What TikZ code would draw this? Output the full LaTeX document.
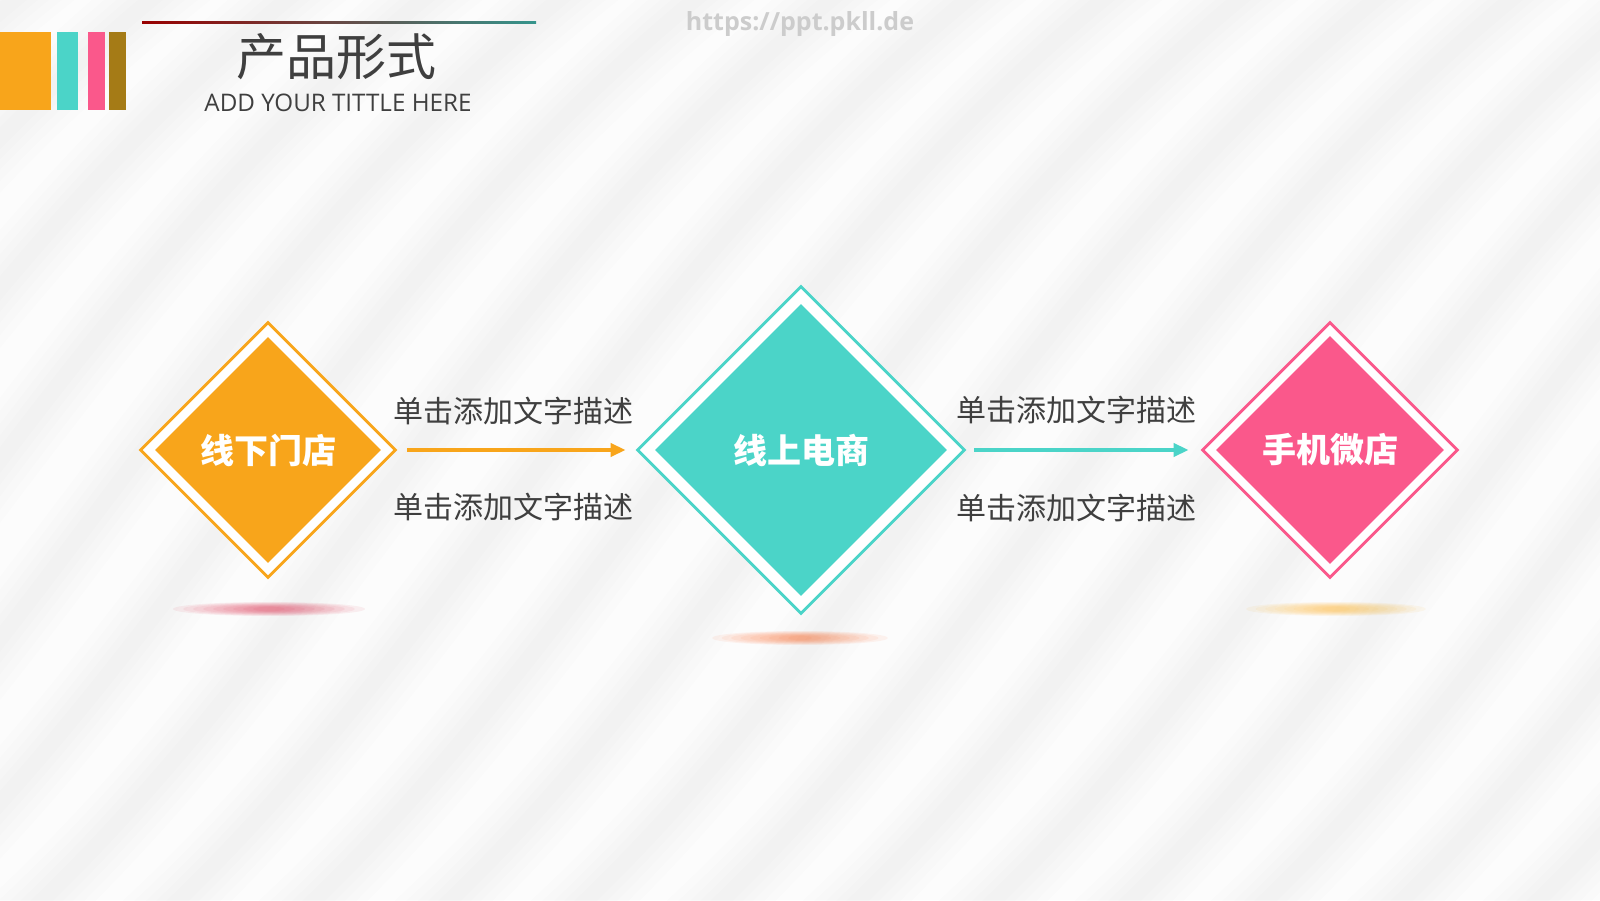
\documentclass[tikz,border=0pt]{standalone}
\usepackage{fontspec}
\usepackage{tikz}
\usetikzlibrary{
	shapes.geometric,
	positioning,
	arrows.meta
}
\setmainfont{Open Sans}
\newfontfamily\cjk{Noto Sans CJK SC}
\definecolor{orangeA}{HTML}{F8A51B}
\definecolor{tealA}{HTML}{4BD4C8}
\definecolor{pinkA}{HTML}{FA588B}
\definecolor{brownA}{HTML}{A57B16}
\definecolor{textA}{HTML}{3F3F3F}
\definecolor{bgA}{HTML}{FCFCFC}
\tikzset{
	frame/.style={diamond,draw=#1,line width=1.4pt,fill=white,inner sep=0pt},
	core/.style={diamond,fill=#1,inner sep=0pt,text=white,
		font=\cjk\bfseries\fontsize{17}{17}\selectfont},
	desc/.style={text=textA,font=\cjk\fontsize{15}{15}\selectfont},
	link/.style={draw=#1,line width=2pt,-{Triangle[length=7.5pt,width=6.5pt]}},
	glow/.style={fill=#1,opacity=0.06},
	wave/.style={draw=black,opacity=0.009,line width=#1}
}

\begin{document}
\begin{tikzpicture}[x=0.5pt,y=0.5pt]
	\useasboundingbox (0,0) rectangle (1600,900);
	% background with soft diagonal waves
	\begin{scope}
		\clip (0,0) rectangle (1600,900);
		\fill[bgA] (0,0) rectangle (1600,900);
		\foreach \i in {-12,...,12}{
			\foreach \w in {38pt,30pt,22pt,15pt,8pt}
				\draw[wave=\w]
					(\i*136,-40) .. controls (\i*136+330,260) and (\i*136+470,620) .. (\i*136+880,940);
		}
	\end{scope}

	% header
	\fill[orangeA] (0,790)   rectangle (51,868);
	\fill[tealA]   (57,790)  rectangle (78,868);
	\fill[pinkA]   (88,790)  rectangle (105,868);
	\fill[brownA]  (109,790) rectangle (126,868);
	\shade[left color=red!60!black,middle color=orange!60!brown!80,right color=tealA!70!black]
		(142,876.3) rectangle (536,878.3);
	\node[text=textA,font=\cjk\fontsize{25}{25}\selectfont] (title) at (336,843) {产品形式};
	\node[text=textA,font=\fontsize{12.1}{13}\selectfont]   (sub)   at (338,797) {ADD YOUR TITTLE HERE};
	\node[text=black!20,font=\bfseries\fontsize{12.5}{13}\selectfont] (mark) at (800,876) {https://ppt.pkll.de};

	% shadows under the diamonds
	\foreach \k in {0,...,8}{
		\fill[glow=purple!60!red]    (269,291)  ellipse ({96-\k*10} and {7-\k*0.6});
		\fill[glow=orange!60!red]    (800,262)  ellipse ({88-\k*9.5} and {7-\k*0.6});
		\fill[glow=orange!70!yellow] (1336,291) ellipse ({90-\k*9.5} and {7-\k*0.6});
	}

	\draw
		node [frame=orangeA,minimum size=128pt]        (d1) at (268,450) {}
		node [core=orangeA,minimum size=113pt]         (c1) at (d1) {线下门店}
		node [frame=tealA,minimum size=164pt]          (d2) at (801,450) {}
		node [core=tealA,minimum size=146pt]           (c2) at (d2) {线上电商}
		node [frame=pinkA,minimum size=128pt]          (d3) at (1330,450) {}
		node [core=pinkA,minimum size=114pt]           (c3) at (d3) {手机微店}

		(d1.east) edge[link=orangeA,shorten <=5pt,shorten >=5pt]
			node[desc,xshift=-1.3pt,yshift=19.5pt]{单击添加文字描述}
			node[desc,xshift=-1.3pt,yshift=-28.5pt]{单击添加文字描述} (d2.west)
		(d2.east) edge[link=tealA,shorten <=4pt,shorten >=6pt]
			node[desc,xshift=-3.5pt,yshift=20pt]{单击添加文字描述}
			node[desc,xshift=-3.5pt,yshift=-29pt]{单击添加文字描述} (d3.west)
	;
\end{tikzpicture}
\end{document}
